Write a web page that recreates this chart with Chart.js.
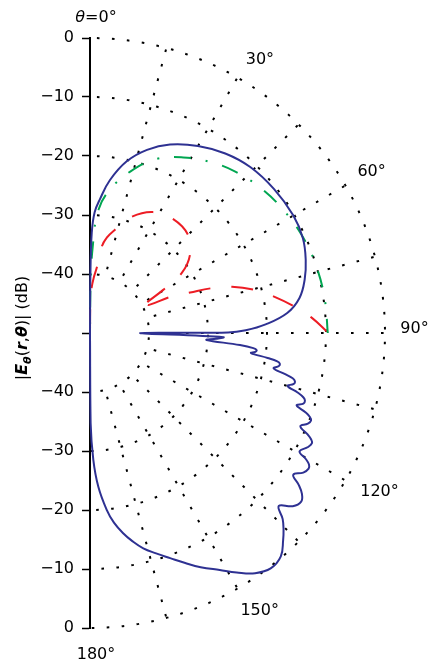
<!DOCTYPE html>
<html>
<head>
<meta charset="utf-8">
<script src="https://cdn.jsdelivr.net/npm/chart.js@4.4.0/dist/chart.umd.min.js"></script>
<style>
  html, body { margin: 0; padding: 0; background: #fff; }
  #wrap { position: relative; width: 429px; height: 664px; }
</style>
</head>
<body>
<div id="wrap"><canvas id="pattern"></canvas></div>
<script>
// Radiation pattern |E_theta| in dB against polar angle (degrees), half plane 0..180
const DB_FLOOR = -50;
const FONT = "'DejaVu Sans', sans-serif";

// solid blue: main lobe, notch at 90, ripple, back lobe
const blueTheta = [
  0, 0.4, 1, 2.2, 4.3, 7.4, 12, 17.3, 23, 30, 37, 44, 52, 60, 66, 71.3, 76, 80.5, 84.2, 87.2, 89, 89.8,
  90, 91.8, 92.6, 93.4,
  94.6, 95.3, 95.9, 96.5, 97.1,
  98, 98.6, 99.2, 99.9, 100.9,
  101.9, 102.6, 103.3, 104, 105,
  106, 106.8, 107.5, 108.3, 109.3,
  110.2, 110.9, 111.6, 112.6, 113.9,
  115, 115.7, 116.4, 117.6, 119.5,
  120.3, 121, 121.8, 123.2, 124.9,
  126, 127.2, 128.6, 130.5, 132.5,
  134, 135.5, 137, 139.5, 142.5, 145.5, 148.5, 151.3, 154.7, 157.5, 160.4, 163.3, 166.1, 168.5,
  170.6, 172.8, 174.6, 176.9, 178.5, 179.6, 180];
const blueDb = [
  -50, -40, -33, -29.5, -27.2, -23.9, -20.3, -17.5, -15.3, -13.4, -11.9, -10.9, -10.4, -10.2, -10.5,
  -11.4, -12.5, -14.0, -16.4, -20.2, -23.6, -26.6,
  -41.5, -27.4, -28.6, -30.2,
  -24.5, -22.2, -21.6, -21.8, -22.5,
  -19.6, -17.9, -17.4, -17.5, -18.3,
  -16.2, -14.8, -14.3, -14.4, -15.3,
  -13.4, -12.2, -11.8, -11.9, -12.9,
  -11.1, -10.1, -9.7, -10.0, -11.0,
  -9.3, -8.4, -8.0, -8.3, -9.2,
  -7.6, -6.7, -6.4, -6.8, -8.0,
  -6.3, -4.9, -4.2, -4.8, -6.6,
  -4.6, -3.2, -2.0, -0.2, 0.3, -0.6, -2.4, -4.2, -6.1, -7.8, -9.5, -11.0, -12.4, -14.0,
  -15.6, -17.6, -19.9, -23.9, -28.5, -34.7, -50];

// dashed red: first lobe up to the null near 62.6, then the second lobe out to 90
const redTheta1 = [0, 0.5, 2, 4, 5.9, 7.7, 10, 13.6, 19.7, 27.5, 36, 45, 52, 56.8, 59.5, 61.6, 62.6];
const redDb1 = [-50, -45, -42.4, -40.5, -38.9, -35.3, -33.6, -32, -29.1, -26.9, -26.1, -26.5, -28.5,
  -31.4, -35.6, -38.8, -39.3];
const redTheta2 = [62.6, 64.6, 65.8, 68, 69.8, 72, 75.4, 78.8, 82.7, 86.1, 90];
const redDb2 = [-39.3, -38.9, -35.1, -31.7, -28, -24.7, -21.1, -18.2, -15, -12.3, -9.6];

// dash-dot green, 0..90
const greenTheta = [0, 0.6, 1.8, 3.9, 8, 14, 21, 28, 35, 42, 50, 58, 66, 74, 82, 90];
const greenDb = [-50, -42, -35.4, -29.1, -25.4, -21.8, -18.4, -16.3, -14.6, -13.2, -12.0, -11.1,
  -10.4, -10.0, -9.8, -9.7];

// radial rings (dB) and angular spokes (deg)
const RING_DB = [-40, -30, -20, -10, 0];
const SPOKE_DEG = [15, 30, 45, 60, 75, 90, 105, 120, 135, 150, 165];
const ANGLE_LABELS = [30, 60, 90, 120, 150];
// where each angle label sits: [angle, radius] in chart units
const LABEL_AT = { 30: [31.9, 54.5], 60: [60.2, 55.0], 90: [89.3, 55.0], 120: [118.8, 56.0], 150: [148.6, 55.2] };

function toXY(theta, db) {
  return theta.map((t, i) => {
    const rho = Math.max(db[i] - DB_FLOOR, 0);
    const a = t * Math.PI / 180;
    return { x: rho * Math.sin(a), y: rho * Math.cos(a) };
  });
}

function minus(v) {
  return String(v).replace('-', '\u2212');
}

// dotted polar grid + angle labels, drawn through the x/y scales
const polarGrid = {
  id: 'polarGrid',
  beforeDatasetsDraw(chart) {
    const { ctx, scales: { x, y } } = chart;
    const cx = x.getPixelForValue(0), cy = y.getPixelForValue(0);
    const kx = x.getPixelForValue(1) - cx, ky = cy - y.getPixelForValue(1);
    const pt = (rho, deg) => {
      const a = deg * Math.PI / 180;
      return [cx + rho * kx * Math.sin(a), cy - rho * ky * Math.cos(a)];
    };

    ctx.save();
    ctx.strokeStyle = '#000';
    ctx.lineWidth = 2;
    ctx.setLineDash([2.6, 12.4]);
    ctx.lineDashOffset = 8;
    RING_DB.forEach(db => {
      const rho = db - DB_FLOOR;
      ctx.beginPath();
      ctx.ellipse(cx, cy, rho * kx, rho * ky, 0, -Math.PI / 2, Math.PI / 2);
      ctx.stroke();
    });
    const r0 = RING_DB[0] - DB_FLOOR, r1 = RING_DB[RING_DB.length - 1] - DB_FLOOR;
    SPOKE_DEG.forEach(deg => {
      ctx.beginPath();
      ctx.moveTo(...pt(r0, deg));
      ctx.lineTo(...pt(r1, deg));
      ctx.stroke();
    });
    ctx.setLineDash([]);

    ctx.fillStyle = '#000';
    ctx.font = '16px ' + FONT;
    ctx.textAlign = 'center';
    ctx.textBaseline = 'middle';
    ANGLE_LABELS.forEach(deg => {
      const [lx, ly] = pt(LABEL_AT[deg][1], LABEL_AT[deg][0]);
      ctx.fillText(deg + '\u00b0', lx, ly);
    });
    // ends of the axis
    const [tx, ty] = pt(53.4, 0);
    const [bx, by] = pt(54.5, 180);
    ctx.fillText('180\u00b0', bx + 6, by);
    ctx.textAlign = 'left';
    ctx.font = 'italic 16px ' + FONT;
    const wTheta = ctx.measureText('\u03b8').width;
    ctx.font = '16px ' + FONT;
    const wRest = ctx.measureText('=0\u00b0').width;
    const left = tx + 6 - (wTheta + wRest) / 2;
    ctx.font = 'italic 16px ' + FONT;
    ctx.fillText('\u03b8', left, ty);
    ctx.font = '16px ' + FONT;
    ctx.fillText('=0\u00b0', left + wTheta, ty);
    ctx.restore();
  }
};

// rotated |E_θ(r,θ)| (dB) axis title with italic symbols and subscript
const yTitle = {
  id: 'yTitle',
  afterDraw(chart) {
    const ctx = chart.ctx;
    const parts = [
      ['|', ''], ['E', 'italic bold '], ['\u03b8', 'italic bold ', true], ['(', ''],
      ['r', 'italic bold '], [',', ''], ['\u03b8', 'italic bold '], [')|', ''], [' (dB)', '']
    ];
    const fontOf = p => p[1] + (p[2] ? '11px ' : '16px ') + FONT;
    let total = 0;
    parts.forEach(p => { ctx.font = fontOf(p); total += ctx.measureText(p[0]).width; });
    ctx.save();
    ctx.fillStyle = '#000';
    ctx.translate(27, 328);
    ctx.rotate(-Math.PI / 2);
    ctx.textBaseline = 'alphabetic';
    let pos = -total / 2;
    parts.forEach(p => {
      ctx.font = fontOf(p);
      ctx.fillText(p[0], pos, p[2] ? 4 : 0);
      pos += ctx.measureText(p[0]).width;
    });
    ctx.restore();
  }
};

const lineStyle = {
  showLine: true,
  pointRadius: 0,
  borderWidth: 2,
  tension: 0.4,
  fill: false,
  clip: false
};
const redStyle = { ...lineStyle, borderColor: '#ed1c24', borderDash: [22, 21], borderDashOffset: 41 };

new Chart(document.getElementById('pattern'), {
  type: 'scatter',
  data: {
    datasets: [
      { ...lineStyle, data: toXY(blueTheta, blueDb), borderColor: '#2e3192' },
      { ...lineStyle, data: toXY(greenTheta, greenDb), borderColor: '#00a651', borderDash: [17, 15, 2, 15], borderDashOffset: 23.5 },
      { ...redStyle, data: toXY(redTheta1, redDb1) },
      { ...redStyle, data: toXY(redTheta2, redDb2) }
    ]
  },
  options: {
    responsive: true,
    maintainAspectRatio: false,
    animation: false,
    layout: { padding: { top: 38, bottom: 36, left: 0, right: 0 } },
    plugins: { legend: { display: false }, tooltip: { enabled: false } },
    scales: {
      x: { type: 'linear', display: false, min: 0, max: 339 / 5.9 },
      y: {
        type: 'linear',
        min: DB_FLOOR,
        max: -DB_FLOOR,
        afterFit: s => { s.width = 90; },
        border: { display: true, color: '#000', width: 2 },
        grid: { drawOnChartArea: false, drawTicks: true, tickLength: 8, tickWidth: 1.5, tickColor: '#000' },
        ticks: {
          stepSize: 10,
          padding: 8,
          color: '#000',
          font: { family: FONT, size: 16 },
          callback: v => v === 0 ? '' : minus(Math.abs(v) + DB_FLOOR)
        }
      }
    }
  },
  plugins: [polarGrid, yTitle]
});
</script>
</body>
</html>
